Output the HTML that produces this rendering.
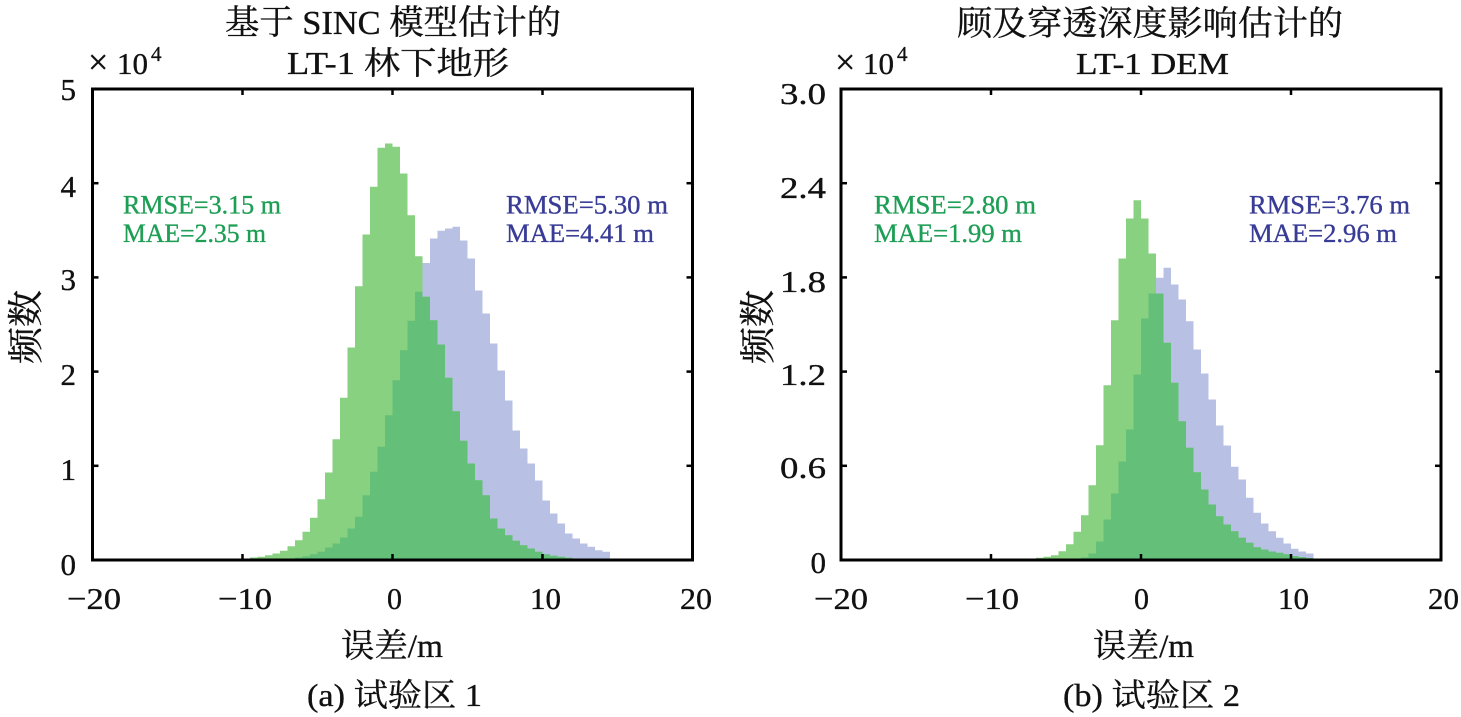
<!DOCTYPE html>
<html>
<head>
<meta charset="utf-8">
<style>
  html,body{margin:0;padding:0;background:#fff;}
  svg{display:block;}
  .t{font-family:"Liberation Serif","Noto Serif CJK SC",serif;fill:#111;stroke:#111;stroke-width:0.35;}
  .g{fill:#1f9e55;stroke:#1f9e55;}
  .b{fill:#383c96;stroke:#383c96;}
</style>
</head>
<body>
<svg width="1461" height="717" viewBox="0 0 1461 717" xmlns="http://www.w3.org/2000/svg">
  <defs>
    <clipPath id="cbL"><path d="M287.5 561 V558.5 H295 V557.5 H302.5 V556.2 H310 V554.2 H317.5 V551.8 H325 V547.5 H332.5 V543.5 H340 V537.5 H347.5 V528.5 H355 V516.8 H362.5 V495.2 H370 V471.8 H377.5 V446.8 H385 V415.2 H392.5 V380.2 H400 V350.2 H407.5 V320.8 H415 V291.8 H422.5 V263 H430 V238.5 H437.5 V230.7 H445 V228.5 H452.5 V226.8 H460 V240.5 H467.5 V258.5 H475 V290.5 H482.5 V313.5 H490 V343.5 H497.5 V370.5 H505 V400.5 H512.5 V430.5 H520 V448.5 H527.5 V463.5 H535 V480.5 H542.5 V500.5 H550 V513.5 H557.5 V523.5 H565 V533.5 H572.5 V538.5 H580 V543.5 H587.5 V546.8 H595 V550.2 H602.5 V551.8 H610 V561 Z"/></clipPath>
    <clipPath id="cbR"><path d="M1081 561 V557.5 H1088.5 V553.5 H1096 V541.5 H1103.5 V519.5 H1111 V493.5 H1118.5 V461.5 H1126 V429.5 H1133.5 V374.5 H1141 V318.5 H1148.5 V293.5 H1156 V277.8 H1163.5 V267.8 H1171 V284.5 H1178.5 V299.5 H1186 V321.2 H1193.5 V349.5 H1201 V373.5 H1208.5 V399.5 H1216 V425.5 H1223.5 V445.5 H1231 V466.8 H1238.5 V479.5 H1246 V497.8 H1253.5 V512.8 H1261 V523.5 H1268.5 V531.2 H1276 V537.8 H1283.5 V543.5 H1291 V548.8 H1298.5 V551.5 H1306 V553.5 H1313.5 V561 Z"/></clipPath>
  </defs>

  <!-- ============ LEFT PANEL ============ -->
  <path fill="#b8c1e3" d="M287.5 561 V558.5 H295 V557.5 H302.5 V556.2 H310 V554.2 H317.5 V551.8 H325 V547.5 H332.5 V543.5 H340 V537.5 H347.5 V528.5 H355 V516.8 H362.5 V495.2 H370 V471.8 H377.5 V446.8 H385 V415.2 H392.5 V380.2 H400 V350.2 H407.5 V320.8 H415 V291.8 H422.5 V263 H430 V238.5 H437.5 V230.7 H445 V228.5 H452.5 V226.8 H460 V240.5 H467.5 V258.5 H475 V290.5 H482.5 V313.5 H490 V343.5 H497.5 V370.5 H505 V400.5 H512.5 V430.5 H520 V448.5 H527.5 V463.5 H535 V480.5 H542.5 V500.5 H550 V513.5 H557.5 V523.5 H565 V533.5 H572.5 V538.5 H580 V543.5 H587.5 V546.8 H595 V550.2 H602.5 V551.8 H610 V561 Z"/>
  <path fill="#87d180" d="M242.5 561 V558.5 H250 V557.5 H257.5 V556.8 H265 V555.2 H272.5 V553.5 H280 V550.8 H287.5 V546.2 H295 V540.2 H302.5 V531.8 H310 V517.8 H317.5 V499.2 H325 V472.5 H332.5 V439.2 H340 V397.8 H347.5 V347.5 H355 V286.2 H362.5 V234.5 H370 V186.8 H377.5 V147.8 H385 V143.5 H392.5 V146.8 H400 V173.5 H407.5 V215.2 H415 V256.2 H422.5 V296.8 H430 V320.2 H437.5 V344.5 H445 V377.8 H452.5 V411.2 H460 V440.8 H467.5 V463.5 H475 V480.2 H482.5 V495.2 H490 V518.5 H497.5 V528.5 H505 V535.2 H512.5 V540.8 H520 V545.2 H527.5 V548.5 H535 V551.8 H542.5 V554.2 H550 V555.8 H557.5 V556.8 H565 V557.8 H572.5 V558.5 H580 V558.8 H587.5 V561 Z"/>
  <path fill="#64bf78" clip-path="url(#cbL)" d="M242.5 561 V558.5 H250 V557.5 H257.5 V556.8 H265 V555.2 H272.5 V553.5 H280 V550.8 H287.5 V546.2 H295 V540.2 H302.5 V531.8 H310 V517.8 H317.5 V499.2 H325 V472.5 H332.5 V439.2 H340 V397.8 H347.5 V347.5 H355 V286.2 H362.5 V234.5 H370 V186.8 H377.5 V147.8 H385 V143.5 H392.5 V146.8 H400 V173.5 H407.5 V215.2 H415 V256.2 H422.5 V296.8 H430 V320.2 H437.5 V344.5 H445 V377.8 H452.5 V411.2 H460 V440.8 H467.5 V463.5 H475 V480.2 H482.5 V495.2 H490 V518.5 H497.5 V528.5 H505 V535.2 H512.5 V540.8 H520 V545.2 H527.5 V548.5 H535 V551.8 H542.5 V554.2 H550 V555.8 H557.5 V556.8 H565 V557.8 H572.5 V558.5 H580 V558.8 H587.5 V561 Z"/>

  <rect x="92.5" y="89" width="600" height="471" fill="none" stroke="#000" stroke-width="3"/>
  <g stroke="#000" stroke-width="2.5">
    <line x1="242.5" y1="560" x2="242.5" y2="554"/>
    <line x1="392.5" y1="560" x2="392.5" y2="554"/>
    <line x1="542.5" y1="560" x2="542.5" y2="554"/>
    <line x1="242.5" y1="89" x2="242.5" y2="95"/>
    <line x1="392.5" y1="89" x2="392.5" y2="95"/>
    <line x1="542.5" y1="89" x2="542.5" y2="95"/>
    <line x1="92.5" y1="183.2" x2="98.5" y2="183.2"/>
    <line x1="92.5" y1="277.4" x2="98.5" y2="277.4"/>
    <line x1="92.5" y1="371.6" x2="98.5" y2="371.6"/>
    <line x1="92.5" y1="465.8" x2="98.5" y2="465.8"/>
    <line x1="692.5" y1="183.2" x2="686.5" y2="183.2"/>
    <line x1="692.5" y1="277.4" x2="686.5" y2="277.4"/>
    <line x1="692.5" y1="371.6" x2="686.5" y2="371.6"/>
    <line x1="692.5" y1="465.8" x2="686.5" y2="465.8"/>
  </g>

  <text class="t" x="225" y="34" font-size="34" textLength="336" lengthAdjust="spacingAndGlyphs">基于 SINC 模型估计的</text>
  <text class="t" x="287" y="74" font-size="32" textLength="222" lengthAdjust="spacingAndGlyphs">LT-1 林下地形</text>

  <text class="t" x="88" y="74" font-size="36">×</text>
  <text class="t" x="117" y="74" font-size="31" textLength="31" lengthAdjust="spacingAndGlyphs">10</text>
  <text class="t" x="151" y="61" font-size="21">4</text>

  <g class="t" font-size="31" text-anchor="end">
    <text x="76" y="100">5</text>
    <text x="76" y="197">4</text>
    <text x="76" y="290">3</text>
    <text x="76" y="385">2</text>
    <text x="76" y="480">1</text>
    <text x="76" y="575">0</text>
  </g>
  <g class="t" font-size="31">
    <text x="67" y="609" textLength="54" lengthAdjust="spacingAndGlyphs">−20</text>
    <text x="218" y="609" textLength="54" lengthAdjust="spacingAndGlyphs">−10</text>
    <text x="387" y="609" textLength="15" lengthAdjust="spacingAndGlyphs">0</text>
    <text x="530" y="609" textLength="31" lengthAdjust="spacingAndGlyphs">10</text>
    <text x="680" y="609" textLength="32" lengthAdjust="spacingAndGlyphs">20</text>
  </g>
  <text class="t" x="341" y="657" font-size="33" textLength="102" lengthAdjust="spacingAndGlyphs">误差/m</text>
  <text class="t" x="307" y="706" font-size="32" textLength="175" lengthAdjust="spacingAndGlyphs">(a) 试验区 1</text>
  <text class="t" font-size="36" text-anchor="middle" textLength="74" lengthAdjust="spacingAndGlyphs" transform="translate(38,327) rotate(-90)">频数</text>

  <text class="t g" x="123" y="213.5" font-size="26" textLength="158" lengthAdjust="spacingAndGlyphs">RMSE=3.15 m</text>
  <text class="t g" x="123" y="242" font-size="26" textLength="143" lengthAdjust="spacingAndGlyphs">MAE=2.35 m</text>
  <text class="t b" x="506" y="213.5" font-size="26" textLength="162" lengthAdjust="spacingAndGlyphs">RMSE=5.30 m</text>
  <text class="t b" x="506" y="242" font-size="26" textLength="148" lengthAdjust="spacingAndGlyphs">MAE=4.41 m</text>

  <!-- ============ RIGHT PANEL ============ -->
  <path fill="#b8c1e3" d="M1081 561 V557.5 H1088.5 V553.5 H1096 V541.5 H1103.5 V519.5 H1111 V493.5 H1118.5 V461.5 H1126 V429.5 H1133.5 V374.5 H1141 V318.5 H1148.5 V293.5 H1156 V277.8 H1163.5 V267.8 H1171 V284.5 H1178.5 V299.5 H1186 V321.2 H1193.5 V349.5 H1201 V373.5 H1208.5 V399.5 H1216 V425.5 H1223.5 V445.5 H1231 V466.8 H1238.5 V479.5 H1246 V497.8 H1253.5 V512.8 H1261 V523.5 H1268.5 V531.2 H1276 V537.8 H1283.5 V543.5 H1291 V548.8 H1298.5 V551.5 H1306 V553.5 H1313.5 V561 Z"/>
  <path fill="#87d180" d="M1028.5 561 V558.5 H1036 V557.8 H1043.5 V556.8 H1051 V555.2 H1058.5 V551.2 H1066 V544.2 H1073.5 V531.8 H1081 V515.2 H1088.5 V485.2 H1096 V445.2 H1103.5 V385.2 H1111 V320.2 H1118.5 V258.5 H1126 V218.5 H1133.5 V200.2 H1141 V218.5 H1148.5 V253.5 H1156 V293.5 H1163.5 V342.8 H1171 V382.8 H1178.5 V421.2 H1186 V447.8 H1193.5 V472.2 H1201 V489.5 H1208.5 V504.5 H1216 V516.2 H1223.5 V524.5 H1231 V531.2 H1238.5 V537.8 H1246 V542.8 H1253.5 V547.2 H1261 V549.5 H1268.5 V551.5 H1276 V552.8 H1283.5 V554.2 H1291 V556 H1298.5 V557 H1306 V558 H1313.5 V558.5 H1321 V561 Z"/>
  <path fill="#64bf78" clip-path="url(#cbR)" d="M1028.5 561 V558.5 H1036 V557.8 H1043.5 V556.8 H1051 V555.2 H1058.5 V551.2 H1066 V544.2 H1073.5 V531.8 H1081 V515.2 H1088.5 V485.2 H1096 V445.2 H1103.5 V385.2 H1111 V320.2 H1118.5 V258.5 H1126 V218.5 H1133.5 V200.2 H1141 V218.5 H1148.5 V253.5 H1156 V293.5 H1163.5 V342.8 H1171 V382.8 H1178.5 V421.2 H1186 V447.8 H1193.5 V472.2 H1201 V489.5 H1208.5 V504.5 H1216 V516.2 H1223.5 V524.5 H1231 V531.2 H1238.5 V537.8 H1246 V542.8 H1253.5 V547.2 H1261 V549.5 H1268.5 V551.5 H1276 V552.8 H1283.5 V554.2 H1291 V556 H1298.5 V557 H1306 V558 H1313.5 V558.5 H1321 V561 Z"/>

  <rect x="841" y="89" width="600" height="471" fill="none" stroke="#000" stroke-width="3"/>
  <g stroke="#000" stroke-width="2.5">
    <line x1="991" y1="560" x2="991" y2="554"/>
    <line x1="1141" y1="560" x2="1141" y2="554"/>
    <line x1="1291" y1="560" x2="1291" y2="554"/>
    <line x1="991" y1="89" x2="991" y2="95"/>
    <line x1="1141" y1="89" x2="1141" y2="95"/>
    <line x1="1291" y1="89" x2="1291" y2="95"/>
    <line x1="841" y1="183.2" x2="847" y2="183.2"/>
    <line x1="841" y1="277.4" x2="847" y2="277.4"/>
    <line x1="841" y1="371.6" x2="847" y2="371.6"/>
    <line x1="841" y1="465.8" x2="847" y2="465.8"/>
    <line x1="1441" y1="183.2" x2="1435" y2="183.2"/>
    <line x1="1441" y1="277.4" x2="1435" y2="277.4"/>
    <line x1="1441" y1="371.6" x2="1435" y2="371.6"/>
    <line x1="1441" y1="465.8" x2="1435" y2="465.8"/>
  </g>

  <text class="t" x="957" y="35" font-size="34" textLength="386" lengthAdjust="spacingAndGlyphs">顾及穿透深度影响估计的</text>
  <text class="t" x="1076" y="74" font-size="31" textLength="153" lengthAdjust="spacingAndGlyphs">LT-1 DEM</text>

  <text class="t" x="835" y="74" font-size="36">×</text>
  <text class="t" x="863" y="74" font-size="31" textLength="31" lengthAdjust="spacingAndGlyphs">10</text>
  <text class="t" x="897" y="61" font-size="21">4</text>

  <g class="t" font-size="31" text-anchor="end">
    <text x="826" y="104" textLength="46" lengthAdjust="spacingAndGlyphs">3.0</text>
    <text x="826" y="198" textLength="46" lengthAdjust="spacingAndGlyphs">2.4</text>
    <text x="826" y="292" textLength="46" lengthAdjust="spacingAndGlyphs">1.8</text>
    <text x="826" y="385" textLength="46" lengthAdjust="spacingAndGlyphs">1.2</text>
    <text x="826" y="478" textLength="46" lengthAdjust="spacingAndGlyphs">0.6</text>
    <text x="826" y="573">0</text>
  </g>
  <g class="t" font-size="31">
    <text x="814" y="609" textLength="54" lengthAdjust="spacingAndGlyphs">−20</text>
    <text x="965" y="609" textLength="54" lengthAdjust="spacingAndGlyphs">−10</text>
    <text x="1134" y="609" textLength="15" lengthAdjust="spacingAndGlyphs">0</text>
    <text x="1278" y="609" textLength="31" lengthAdjust="spacingAndGlyphs">10</text>
    <text x="1428" y="609" textLength="31" lengthAdjust="spacingAndGlyphs">20</text>
  </g>
  <text class="t" x="1093" y="657" font-size="33" textLength="101" lengthAdjust="spacingAndGlyphs">误差/m</text>
  <text class="t" x="1063" y="706" font-size="32" textLength="177" lengthAdjust="spacingAndGlyphs">(b) 试验区 2</text>
  <text class="t" font-size="36" text-anchor="middle" textLength="74" lengthAdjust="spacingAndGlyphs" transform="translate(770,327) rotate(-90)">频数</text>

  <text class="t g" x="874" y="213.5" font-size="26" textLength="162" lengthAdjust="spacingAndGlyphs">RMSE=2.80 m</text>
  <text class="t g" x="874" y="242" font-size="26" textLength="148" lengthAdjust="spacingAndGlyphs">MAE=1.99 m</text>
  <text class="t b" x="1249" y="213.5" font-size="26" textLength="161" lengthAdjust="spacingAndGlyphs">RMSE=3.76 m</text>
  <text class="t b" x="1249" y="242" font-size="26" textLength="148" lengthAdjust="spacingAndGlyphs">MAE=2.96 m</text>
</svg>
</body>
</html>
